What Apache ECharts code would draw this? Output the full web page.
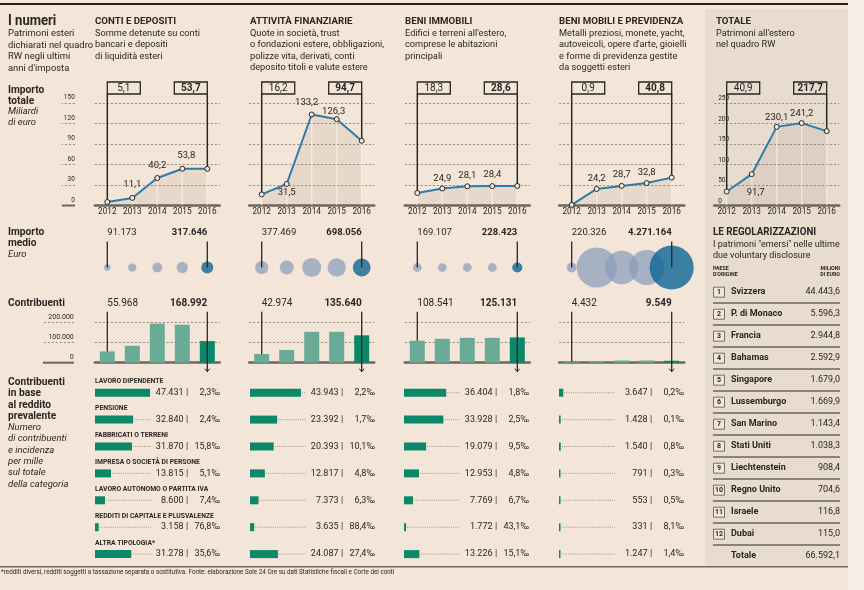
<!DOCTYPE html>
<html lang="it">
<head>
<meta charset="utf-8">
<title>I numeri</title>
<script src="https://cdn.jsdelivr.net/npm/echarts@6.0.0/dist/echarts.min.js"></script>
<style>
html,body{margin:0;padding:0;background:#f3e5d7;}
#chart{width:864px;height:590px;}
</style>
</head>
<body>
<div id="chart"></div>
<script>
// ================= DATA =================
const years = ['2012', '2013', '2014', '2015', '2016'];

// Importo totale, miliardi di euro
const totaleConti     = [5.1, 11.1, 40.2, 53.8, 53.7];
const totaleAttivita  = [16.2, 31.5, 133.2, 126.3, 94.7];
const totaleImmobili  = [18.3, 24.9, 28.1, 28.4, 28.6];
const totaleMobili    = [0.9, 24.2, 28.7, 32.8, 40.8];
const totaleTotale    = [40.9, 91.7, 230.1, 241.2, 217.7];
const ticksMiliardi   = ['0', '30', '60', '90', '120', '150'];
const ticksTotale     = ['0', '50', '100', '150', '200', '250'];

// Importo medio, euro (intermediate years)
const medioConti      = [91173, 150000, 215000, 280000, 317646];
const medioAttivita   = [377469, 430000, 800000, 740000, 698056];
const medioImmobili   = [169107, 165000, 170000, 170000, 228423];
const medioMobili     = [220326, 3530000, 2450000, 2700000, 4271164];

// Contribuenti (bar heights as drawn)
const contribConti    = [55968, 83500, 193500, 188000, 107000];
const contribAttivita = [42974, 63000, 153000, 153000, 135640];
const contribImmobili = [108541, 118000, 123000, 123000, 125131];
const contribMobili   = [4432, 6500, 11000, 11000, 9549];
// Contribuenti, printed values 2012 / 2016
const contribLabelConti    = [55968, 168992];
const contribLabelAttivita = [42974, 135640];
const contribLabelImmobili = [108541, 125131];
const contribLabelMobili   = [4432, 9549];
const ticksContrib = ['0', '100.000', '200.000'];

// Contribuenti in base al reddito prevalente
const categorie = ['LAVORO DIPENDENTE', 'PENSIONE', 'FABBRICATI O TERRENI', 'IMPRESA O SOCIETÀ DI PERSONE',
  'LAVORO AUTONOMO O PARTITA IVA', 'REDDITI DI CAPITALE E PLUSVALENZE', 'ALTRA TIPOLOGIA*'];
const redditoConti     = [47431, 32840, 31870, 13815, 8600, 3158, 31278];
const permilleConti    = [2.3, 2.4, 15.8, 5.1, 7.4, 76.8, 35.6];
const redditoAttivita  = [43943, 23392, 20393, 12817, 7373, 3635, 24087];
const permilleAttivita = [2.2, 1.7, 10.1, 4.8, 6.3, 88.4, 27.4];
const redditoImmobili  = [36404, 33928, 19079, 12953, 7769, 1772, 13226];
const permilleImmobili = [1.8, 2.5, 9.5, 4.8, 6.7, 43.1, 15.1];
const redditoMobili    = [3647, 1428, 1540, 791, 553, 331, 1247];
const permilleMobili   = [0.2, 0.1, 0.8, 0.3, 0.5, 8.1, 1.4];

// Le regolarizzazioni (milioni di euro)
const paesi = ['Svizzera', 'P. di Monaco', 'Francia', 'Bahamas', 'Singapore', 'Lussemburgo',
  'San Marino', 'Stati Uniti', 'Liechtenstein', 'Regno Unito', 'Israele', 'Dubai'];
const milioni = [44443.6, 5596.3, 2944.8, 2592.9, 1679.0, 1669.9, 1143.4, 1038.3, 908.4, 704.6, 116.8, 115.0];
const totaleRegolarizzazioni = 66592.1;

// ================= BUILD =================
const FONT = 'Roboto, "Noto Sans", sans-serif';
const INK = '#2a2624';
const font = (size, weight, style) => `${style || 'normal'} ${weight || 'normal'} ${size}px ${FONT}`;
function itNum(v, dec) {
  dec = dec || 0;
  const s = Math.abs(v).toFixed(dec).split('.');
  const i = s[0].replace(/\B(?=(\d{3})+(?!\d))/g, '.');
  return (v < 0 ? '-' : '') + (s[1] ? i + ',' + s[1] : i);
}
function tstyle(x, y, text, f, align, extra) {
  return Object.assign({x, y, text, font: f, fill: INK, align: align || 'left', textAlign: align || 'left',
    verticalAlign: 'middle', textVerticalAlign: 'middle'}, extra || {});
}

const grids = [], xAxes = [], yAxes = [], series = [];
function addGrid(g, xa, ya) {
  grids.push(Object.assign({outerBoundsMode: 'none', containLabel: false, show: false}, g));
  const gi = grids.length - 1;
  xAxes.push(Object.assign({gridIndex: gi}, xa));
  yAxes.push(Object.assign({gridIndex: gi}, ya));
  return gi;
}
const gridLine = {show: true, lineStyle: {type: [2, 2], color: '#877d76', width: 0.9}};
function xCat(showLabels) {
  return {type: 'category', data: years, boundaryGap: true,
    axisLine: {show: true, lineStyle: {color: '#6d6660', width: 2.5}},
    axisTick: {show: false}, splitLine: {show: false},
    axisLabel: {show: showLabels, interval: 0, margin: 2.5, fontSize: 8.2, color: INK, fontFamily: FONT}};
}

const panels = [
  {x: 94.8, hx: 95, tot: totaleConti, med: medioConti, cont: contribConti, contLbl: contribLabelConti, red: redditoConti, pm: permilleConti},
  {x: 249.2, hx: 250, tot: totaleAttivita, med: medioAttivita, cont: contribAttivita, contLbl: contribLabelAttivita, red: redditoAttivita, pm: permilleAttivita},
  {x: 404.8, hx: 404, tot: totaleImmobili, med: medioImmobili, cont: contribImmobili, contLbl: contribLabelImmobili, red: redditoImmobili, pm: permilleImmobili},
  {x: 559.2, hx: 559, tot: totaleMobili, med: medioMobili, cont: contribMobili, contLbl: contribLabelMobili, red: redditoMobili, pm: permilleMobili}
];
// label placement per panel (style only)
const labelCfg = [
  [null, {p: 'top', d: 5}, {p: 'top', d: 4}, {p: 'top', d: 5, dx: 4}, null],
  [null, {p: 'bottom', d: 1}, {p: 'top', d: 4, dx: -5}, {p: 'top', d: 0, dx: -3}, null],
  [null, {p: 'top', d: 2}, {p: 'top', d: 3}, {p: 'top', d: 3}, null],
  [null, {p: 'top', d: 2}, {p: 'top', d: 3}, {p: 'top', d: 2}, null],
  [null, {p: 'bottom', d: 10, dx: 4}, {p: 'top', d: 1}, {p: 'top', d: 1}, null]
];

function boxRender(params, api) {
  const idx = api.value(0), v = api.value(1);
  const p = api.coord([idx, v]);
  const cs = params.coordSys;
  const last = idx === 4, w = 33, h = 12, top = cs.y - 21;
  const bx = last ? p[0] - w : p[0];
  return {type: 'group', children: [
    {type: 'line', shape: {x1: p[0], y1: top + h, x2: p[0], y2: p[1]}, style: {stroke: INK, lineWidth: 1.5}},
    {type: 'rect', shape: {x: bx, y: top, width: w, height: h}, style: {fill: 'none', stroke: INK, lineWidth: 1.3}},
    {type: 'text', style: tstyle(bx + w / 2, top + h / 2 + 0.5, itNum(v, 1), font(10, last ? 'bold' : 'normal'), 'center')}
  ]};
}

function addLinePanel(i, x, vals, isTot) {
  let ya;
  const base = {type: 'value', min: 0, axisLine: {show: false}, splitLine: gridLine};
  if (isTot) {
    ya = Object.assign({}, base, {max: 300, interval: 60, axisTick: {show: false},
      axisLabel: {show: true, inside: true, margin: 4, fontSize: 6.5, color: INK, fontFamily: FONT,
        verticalAlign: 'bottom', padding: [0, 0, 1, 0], formatter: (v, k) => ticksTotale[k]}});
  } else if (i === 0) {
    ya = Object.assign({}, base, {max: 150, interval: 30, offset: 20,
      axisTick: {show: true, length: 13, lineStyle: {type: [2, 2], color: '#877d76', width: 0.9}},
      axisLabel: {show: true, margin: 0, fontSize: 6.5, color: INK, fontFamily: FONT, align: 'right',
        verticalAlign: 'bottom', padding: [0, 0, 2, 0], formatter: (v, k) => ticksMiliardi[k]}});
  } else {
    ya = Object.assign({}, base, {max: 150, interval: 30, axisTick: {show: false}, axisLabel: {show: false}});
  }
  const gi = addGrid({left: x, top: 103, width: 125, height: 102.5}, xCat(true), ya);
  const common = {xAxisIndex: gi, yAxisIndex: gi, silent: true};
  series.push(Object.assign({type: 'line', data: vals, symbol: 'none', lineStyle: {width: 0},
    areaStyle: {color: 'rgba(100,80,60,0.12)'}, z: 1}, common));
  series.push(Object.assign({type: 'bar', data: vals, barWidth: 1.5,
    itemStyle: {color: 'rgba(255,255,255,0.45)'}, z: 2}, common));
  series.push(Object.assign({type: 'custom', data: [[0, vals[0]], [4, vals[4]]], encode: {x: 0, y: 1},
    renderItem: boxRender, clip: false, z: 3}, common));
  series.push(Object.assign({type: 'line', z: 4,
    data: vals.map((v, k) => {
      const c = labelCfg[i][k];
      return {value: v, label: c ? {show: true, position: c.p, distance: c.d, offset: [c.dx || 0, 0]} : {show: false}};
    }),
    symbol: 'circle', symbolSize: 5,
    lineStyle: {color: '#2b7cab', width: 2},
    itemStyle: {color: '#efe6dc', borderColor: INK, borderWidth: 1},
    label: {fontSize: 9.5, color: INK, fontFamily: FONT, formatter: p => itNum(p.value, 1)}}, common));
}

function bubbleLabelRender(params, api) {
  const idx = api.value(0), v = api.value(2);
  const p = api.coord([idx, 0]);
  const cs = params.coordSys;
  const last = idx === 4;
  return {type: 'group', children: [
    {type: 'line', shape: {x1: p[0], y1: cs.y - 15.5, x2: p[0], y2: p[1]}, style: {stroke: INK, lineWidth: 1.3}},
    {type: 'text', style: tstyle(p[0], cs.y - 24.5, itNum(v), font(9.5, last ? 'bold' : 'normal'), last ? 'right' : 'left')}
  ]};
}

function contribLabelRender(params, api) {
  const idx = api.value(0), v = api.value(1), lbl = api.value(2);
  const p = api.coord([idx, v]);
  const cs = params.coordSys;
  const baseY = cs.y + cs.height;
  const last = idx === 4;
  const y0 = cs.y - 10.6, y1 = last ? baseY + 9 : p[1];
  const ch = [
    {type: 'line', shape: {x1: p[0], y1: y0, x2: p[0], y2: y1}, style: {stroke: INK, lineWidth: 1.3}},
    {type: 'text', style: tstyle(p[0], cs.y - 19, itNum(lbl), font(10, last ? 'bold' : 'normal'), last ? 'right' : 'left')}
  ];
  if (last) ch.push({type: 'polyline', shape: {points: [[p[0] - 2.5, y1 - 3], [p[0], y1], [p[0] + 2.5, y1 - 3]]},
    style: {stroke: INK, lineWidth: 1, fill: 'none'}});
  return {type: 'group', children: ch};
}

function hbarRender(showCat) {
  return function (params, api) {
    const v = api.value(0), k = api.value(1), pm = api.value(2);
    const p = api.coord([v, k]);
    const cs = params.coordSys;
    const x0 = cs.x;
    const ch = [];
    const end = Math.max(p[0], x0 + 1.5) + 1;
    const leadEnd = x0 + 56;
    if (end < leadEnd) ch.push({type: 'line', shape: {x1: end, y1: p[1], x2: leadEnd, y2: p[1]},
      style: {stroke: '#8b837c', lineWidth: 0.8, lineDash: [1, 1.2]}});
    ch.push({type: 'text', style: tstyle(x0 + 88.5, p[1], itNum(v), font(9), 'right')});
    ch.push({type: 'text', style: tstyle(x0 + 92, p[1], '|', font(9), 'center')});
    ch.push({type: 'text', style: tstyle(x0 + 125, p[1], itNum(pm, 1) + '‰', font(9), 'right')});
    if (showCat) ch.push({type: 'text', style: tstyle(x0, p[1] - 11, categorie[k], font(6.8, 'bold'), 'left')});
    return {type: 'group', children: ch};
  };
}

panels.forEach((pn, i) => {
  addLinePanel(i, pn.x, pn.tot, false);

  // bubbles
  const gb = addGrid({left: pn.x, top: 257, width: 125, height: 21},
    {type: 'category', data: years, show: false}, {type: 'value', min: -1, max: 1, show: false});
  series.push({type: 'scatter', xAxisIndex: gb, yAxisIndex: gb, silent: true, z: 2,
    data: pn.med.map((v, k) => [k, 0, v]),
    symbolSize: d => 0.0213 * Math.sqrt(d[2]),
    itemStyle: {color: p => p.dataIndex === 4 ? '#0d6596' : 'rgba(134,155,188,0.88)'}});
  series.push({type: 'custom', xAxisIndex: gb, yAxisIndex: gb, silent: true, z: 5, clip: false,
    data: [[0, 0, pn.med[0]], [4, 0, pn.med[4]]], encode: {x: 0, y: 1}, renderItem: bubbleLabelRender});

  // contribuenti bars
  const yb = {type: 'value', min: 0, max: 200000, interval: 100000, axisLine: {show: false}, splitLine: gridLine};
  if (i === 0) Object.assign(yb, {offset: 21,
    axisTick: {show: true, length: 31, lineStyle: {type: [2, 2], color: '#877d76', width: 0.9}},
    axisLabel: {show: true, margin: 0, fontSize: 7, color: INK, fontFamily: FONT, align: 'right',
      verticalAlign: 'bottom', padding: [0, 0, 2, 0], formatter: (v, k) => ticksContrib[k]}});
  else Object.assign(yb, {axisTick: {show: false}, axisLabel: {show: false}});
  const gc = addGrid({left: pn.x, top: 322.3, width: 125, height: 40.4}, xCat(false), yb);
  series.push({type: 'bar', xAxisIndex: gc, yAxisIndex: gc, silent: true, barWidth: 15, z: 2,
    data: pn.cont.map((v, k) => ({value: v, itemStyle: {color: k === 4 ? '#0c8769' : '#6aab98'}}))});
  series.push({type: 'custom', xAxisIndex: gc, yAxisIndex: gc, silent: true, z: 5, clip: false,
    data: [[0, pn.cont[0], pn.contLbl[0]], [4, pn.cont[4], pn.contLbl[1]]], encode: {x: 0, y: 1},
    renderItem: contribLabelRender});

  // horizontal bars by income type
  const gh = addGrid({left: pn.hx, top: 379.25, width: 116, height: 188.3},
    {type: 'value', min: 0, max: 100000, show: false},
    {type: 'category', data: categorie, inverse: true, show: false});
  series.push({type: 'bar', xAxisIndex: gh, yAxisIndex: gh, silent: true, data: pn.red, barWidth: 8,
    barMinHeight: 1.5, itemStyle: {color: '#0c8769'}});
  series.push({type: 'custom', xAxisIndex: gh, yAxisIndex: gh, silent: true, clip: false, z: 5,
    data: pn.red.map((v, k) => [v, k, pn.pm[k]]), encode: {x: 0, y: 1}, renderItem: hbarRender(i === 0)});
});

addLinePanel(4, 714.2, totaleTotale, true);

// Regolarizzazioni table
const rowsRegol = paesi.concat(['Totale']);
const gr = addGrid({left: 713, top: 280.7, width: 127, height: 286},
  {type: 'value', min: 0, max: 1, show: false},
  {type: 'category', data: rowsRegol, inverse: true, show: false});
series.push({type: 'custom', xAxisIndex: gr, yAxisIndex: gr, silent: true, clip: false,
  data: rowsRegol.map((n, k) => [0.5, k]), encode: {x: 0, y: 1},
  renderItem: (params, api) => {
    const k = api.value(1);
    const cs = params.coordSys;
    const y = api.coord([0, k])[1];
    const x0 = cs.x, x1 = cs.x + cs.width;
    const isTot = k === paesi.length;
    const ch = [];
    if (!isTot) {
      ch.push({type: 'rect', shape: {x: x0 + 0.5, y: y - 4.5, width: 11, height: 10},
        style: {fill: '#efe6dc', stroke: '#6a625c', lineWidth: 0.9}});
      ch.push({type: 'text', style: tstyle(x0 + 6, y + 0.7, String(k + 1), font(7, 'bold'), 'center')});
      ch.push({type: 'line', shape: {x1: x0, y1: y + 11.3, x2: x1, y2: y + 11.3}, style: {stroke: '#2e2a28', lineWidth: 1.1}});
    }
    ch.push({type: 'text', style: tstyle(x0 + 18, y, rowsRegol[k], font(9, 'bold'), 'left')});
    ch.push({type: 'text', style: tstyle(x1, y, itNum(isTot ? totaleRegolarizzazioni : milioni[k], 1), font(9), 'right')});
    return {type: 'group', children: ch};
  }});

// ---------- static text & frame ----------
function txt(x, y, text, size, o) {
  o = o || {};
  return {type: 'text', x, y, scaleX: o.sx || 0.96, z: 20, silent: true,
    style: tstyle(0, 0, text, font(size, o.w, o.s), o.a || 'left', {fill: o.c || INK})};
}
const graphic = [
  {type: 'rect', z: -5, silent: true, shape: {x: 848, y: 0, width: 16, height: 590}, style: {fill: '#f7eee5'}},
  {type: 'rect', z: -5, silent: true, shape: {x: 705, y: 9, width: 143, height: 558}, style: {fill: '#e8dccf'}},
  {type: 'line', z: 20, silent: true, shape: {x1: 0, y1: 4, x2: 848, y2: 4}, style: {stroke: '#231f1d', lineWidth: 2}},
  {type: 'line', z: 20, silent: true, shape: {x1: 0, y1: 566.8, x2: 848, y2: 566.8}, style: {stroke: '#6f6862', lineWidth: 1.5}},
  {type: 'line', z: 20, silent: true, shape: {x1: 62, y1: 205.5, x2: 75, y2: 205.5}, style: {stroke: '#6d6660', lineWidth: 2}},
  {type: 'line', z: 20, silent: true, shape: {x1: 43, y1: 362.7, x2: 74, y2: 362.7}, style: {stroke: '#6d6660', lineWidth: 2}}
];
graphic.push(txt(8, 21, 'I numeri', 14.5, {w: 'bold', sx: 0.9}));
['Patrimoni esteri', 'dichiarati nel quadro', 'RW negli ultimi', "anni d'imposta"]
  .forEach((t, k) => graphic.push(txt(8, 33.5 + 11.7 * k, t, 9.5, {sx: 0.99})));
const heads = [
  {x: 95, t: 'CONTI E DEPOSITI', d: ['Somme detenute su conti', 'bancari e depositi', 'di liquidità esteri']},
  {x: 250, t: 'ATTIVITÀ FINANZIARIE', d: ['Quote in società, trust', 'o fondazioni estere, obbligazioni,', 'polizze vita, derivati, conti', 'deposito titoli e valute estere']},
  {x: 405, t: 'BENI IMMOBILI', d: ["Edifici e terreni all'estero,", 'comprese le abitazioni', 'principali']},
  {x: 559, t: 'BENI MOBILI E PREVIDENZA', d: ['Metalli preziosi, monete, yacht,', "autoveicoli, opere d'arte, gioielli", 'e forme di previdenza gestite', 'da soggetti esteri']},
  {x: 716, t: 'TOTALE', d: ["Patrimoni all'estero", 'nel quadro RW']}
];
heads.forEach(h => {
  graphic.push(txt(h.x, 22, h.t, 9.5, {w: 'bold', sx: 1.02}));
  h.d.forEach((t, k) => graphic.push(txt(h.x, 33.5 + 11.5 * k, t, 9.5, {sx: 0.97})));
});
graphic.push(txt(8, 90, 'Importo', 10, {w: 'bold', sx: 1.02}));
graphic.push(txt(8, 101, 'totale', 10, {w: 'bold', sx: 1.02}));
graphic.push(txt(8, 112, 'Miliardi', 9.5, {s: 'italic', sx: 1}));
graphic.push(txt(8, 123, 'di euro', 9.5, {s: 'italic', sx: 1}));
graphic.push(txt(8, 232, 'Importo', 10, {w: 'bold', sx: 1.02}));
graphic.push(txt(8, 243.5, 'medio', 10, {w: 'bold', sx: 1.02}));
graphic.push(txt(8, 254.5, 'Euro', 9.5, {s: 'italic', sx: 1}));
graphic.push(txt(8, 303, 'Contribuenti', 10, {w: 'bold', sx: 1.02}));
['Contribuenti', 'in base', 'al reddito', 'prevalente'].forEach((t, k) => graphic.push(txt(8, 382.5 + 11.3 * k, t, 10, {w: 'bold', sx: 1.02})));
['Numero', 'di contribuenti', 'e incidenza', 'per mille', 'sul totale', 'della categoria']
  .forEach((t, k) => graphic.push(txt(8, 427.7 + 11.3 * k, t, 9.5, {s: 'italic', sx: 1})));
graphic.push(txt(713, 232, 'LE REGOLARIZZAZIONI', 10.5, {w: 'bold', sx: 0.93}));
graphic.push(txt(713, 244.3, 'I patrimoni "emersi" nelle ultime', 9.5, {sx: 0.95}));
graphic.push(txt(713, 256, 'due voluntary disclosure', 9.5, {sx: 0.95}));
graphic.push(txt(713, 268.5, 'PAESE', 5.5, {w: 'bold'}));
graphic.push(txt(713, 274.5, "D'ORIGINE", 5.5, {w: 'bold'}));
graphic.push(txt(840, 268.5, 'MILIONI', 5.5, {w: 'bold', a: 'right'}));
graphic.push(txt(840, 274.5, 'DI EURO', 5.5, {w: 'bold', a: 'right'}));
graphic.push(txt(1, 572.5, '*redditi diversi, redditi soggetti a tassazione separata o sostitutiva. Fonte: elaborazione Sole 24 Ore su dati Statistiche fiscali e Corte dei conti', 7, {sx: 0.9}));

const chart = echarts.init(document.getElementById('chart'), null, {renderer: 'canvas'});
chart.setOption({
  backgroundColor: '#f3e5d7',
  animation: false,
  textStyle: {fontFamily: FONT},
  grid: grids, xAxis: xAxes, yAxis: yAxes,
  series, graphic
});
</script>
</body>
</html>
